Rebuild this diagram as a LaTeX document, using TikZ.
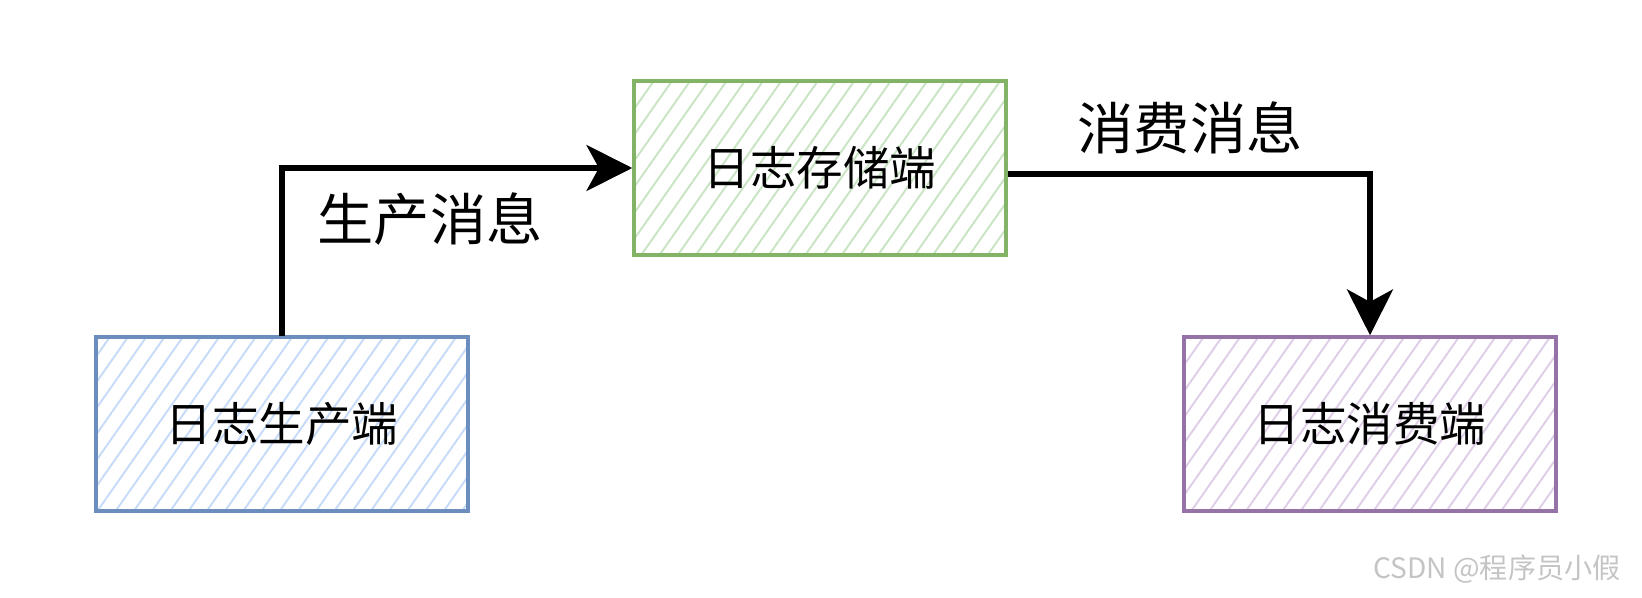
\documentclass[tikz,border=0pt]{standalone}
\usepackage{fontspec}
\newfontfamily\cjk{Noto Sans CJK SC}
\usepackage{xcolor}
\usepackage{tikz}
\usetikzlibrary{arrows.meta,patterns.meta}
\definecolor{prodBlue}{RGB}{108,142,191}
\definecolor{prodBlueHatch}{RGB}{198,219,248}
\definecolor{storeGreen}{RGB}{130,179,102}
\definecolor{storeGreenHatch}{RGB}{200,228,195}
\definecolor{consPurple}{RGB}{150,115,166}
\definecolor{consPurpleHatch}{RGB}{222,206,232}
\definecolor{markGray}{RGB}{196,196,196}

\begin{document}
\begin{tikzpicture}[x=0.02cm, y=-0.02cm,
  endBox/.style 2 args={draw=#1, line width=2pt,
    pattern={Lines[angle=55,distance=8.5pt,line width=1.1pt]}, pattern color=#2,
    minimum width=7.44cm, minimum height=3.48cm, inner sep=0pt,
    font=\cjk\fontsize{26.5}{30}\selectfont},
  flowArrow/.style={line width=3.7pt, -{Stealth[length=26pt,width=26pt,inset=7pt]}},
  flowLabel/.style={font=\cjk\fontsize{32}{36}\selectfont}]
\useasboundingbox (0,0) rectangle (1642,598);
\node[endBox={prodBlue}{prodBlueHatch}] (prod) at (282,424) {日志生产端};
\node[endBox={storeGreen}{storeGreenHatch}] (store) at (820,168) {日志存储端};
\node[endBox={consPurple}{consPurpleHatch}] (cons) at (1370,424) {日志消费端};
\draw[flowArrow] (prod.north) |- (store.west);
\draw[flowArrow] ([yshift=-0.12cm]store.east) -| (cons.north);
\node[flowLabel] (prodMsg) at (430,219) {生产消息};
\node[flowLabel] (consMsg) at (1190,128) {消费消息};
\node[text=markGray, font=\cjk\fontsize{16}{19}\selectfont] (mark) at (1497,569) {CSDN @程序员小假};
\end{tikzpicture}
\end{document}
